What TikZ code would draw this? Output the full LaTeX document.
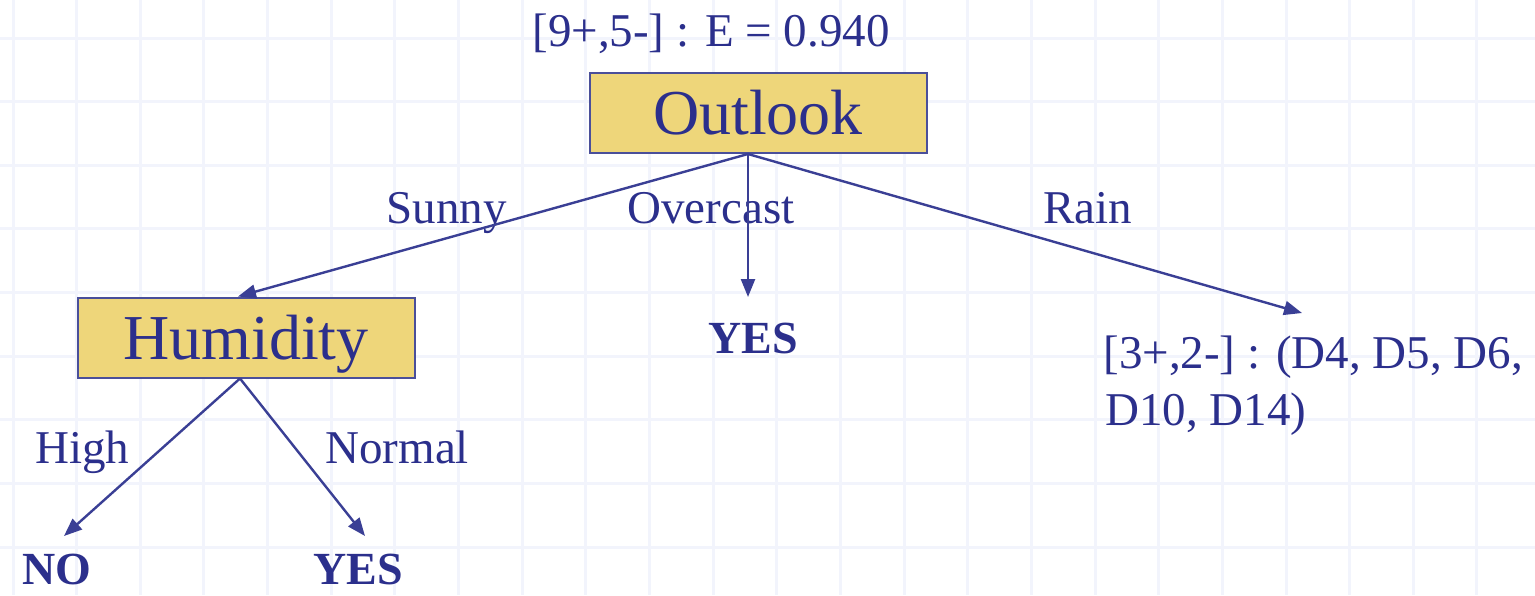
\documentclass[tikz,border=0pt]{standalone}
\usepackage{fontspec}
\setmainfont{Liberation Serif}
\usetikzlibrary{arrows.meta}
\definecolor{navy}{HTML}{2B2F8C}
\definecolor{edgec}{HTML}{3A3F95}
\definecolor{boxfill}{HTML}{EED67A}
\definecolor{boxdraw}{HTML}{4A4F9A}
\definecolor{gridc}{HTML}{F2F4FC}
\begin{document}
\begin{tikzpicture}[x=0.5pt,y=-0.5pt,
  gridline/.style={draw=gridc,line width=1.5pt},
  attrbox/.style={draw=boxdraw,fill=boxfill,line width=1pt,minimum width=168.5pt,minimum height=40pt,inner sep=0pt,
    font=\fontsize{32}{36}\selectfont,text=navy,text height=21.8pt,text depth=0pt},
  lbl/.style={inner sep=0pt,anchor=base west,font=\fontsize{23.5}{28}\selectfont,text=navy},
  leaf/.style={inner sep=0pt,anchor=base west,font=\fontsize{23}{28}\selectfont\bfseries,text=navy},
  branch/.style={draw=edgec,line width=1.2pt,-{Triangle[length=9pt,width=7pt]}}]
\useasboundingbox (0,0) rectangle (1535,595);
\fill[white] (0,0) rectangle (1535,595);
\foreach \i in {0,...,23} \draw[gridline] ({13+63.65*\i},0) -- ({13+63.65*\i},595);
\foreach \j in {0,...,8} \draw[gridline] (0,{38+63.65*\j}) -- (1535,{38+63.65*\j});

\node[lbl] (e940) at (532,46) {[9+,5-] : E = 0.940};
\node[attrbox] (outlook) at (758,113) {Outlook};
\node[attrbox] (hum) at (246,337.5) {Humidity};

\node[lbl] (sunny) at (386,223) {Sunny};
\node[lbl] (overcast) at (627,223) {Overcast};
\node[lbl] (rain) at (1043,223) {Rain};

\node[leaf] (yes1) at (708,353) {YES};
\node[lbl] (rain1) at (1103,368) {[3+,2-] : (D4, D5, D6,};
\node[lbl] (rain2) at (1105,425) {D10, D14)};

\node[lbl] (high) at (35,463) {High};
\node[lbl] (normal) at (325,463) {Normal};
\node[leaf] (no) at (22,584) {NO};
\node[leaf] (yes2) at (313,584) {YES};

\draw[branch] ([xshift=-5pt]outlook.south) -- ([xshift=-4pt]hum.north);
\draw[branch] ([xshift=-5pt]outlook.south) -- ([xshift=20pt,yshift=28pt]yes1.base west);
\draw[branch] ([xshift=-5pt]outlook.south) -- ([xshift=99.5pt,yshift=27.5pt]rain1.base west);
\draw[branch] ([xshift=-3pt]hum.south) -- ([xshift=21pt,yshift=24pt]no.base west);
\draw[branch] ([xshift=-3pt]hum.south) -- ([xshift=26pt,yshift=24pt]yes2.base west);
\end{tikzpicture}
\end{document}
